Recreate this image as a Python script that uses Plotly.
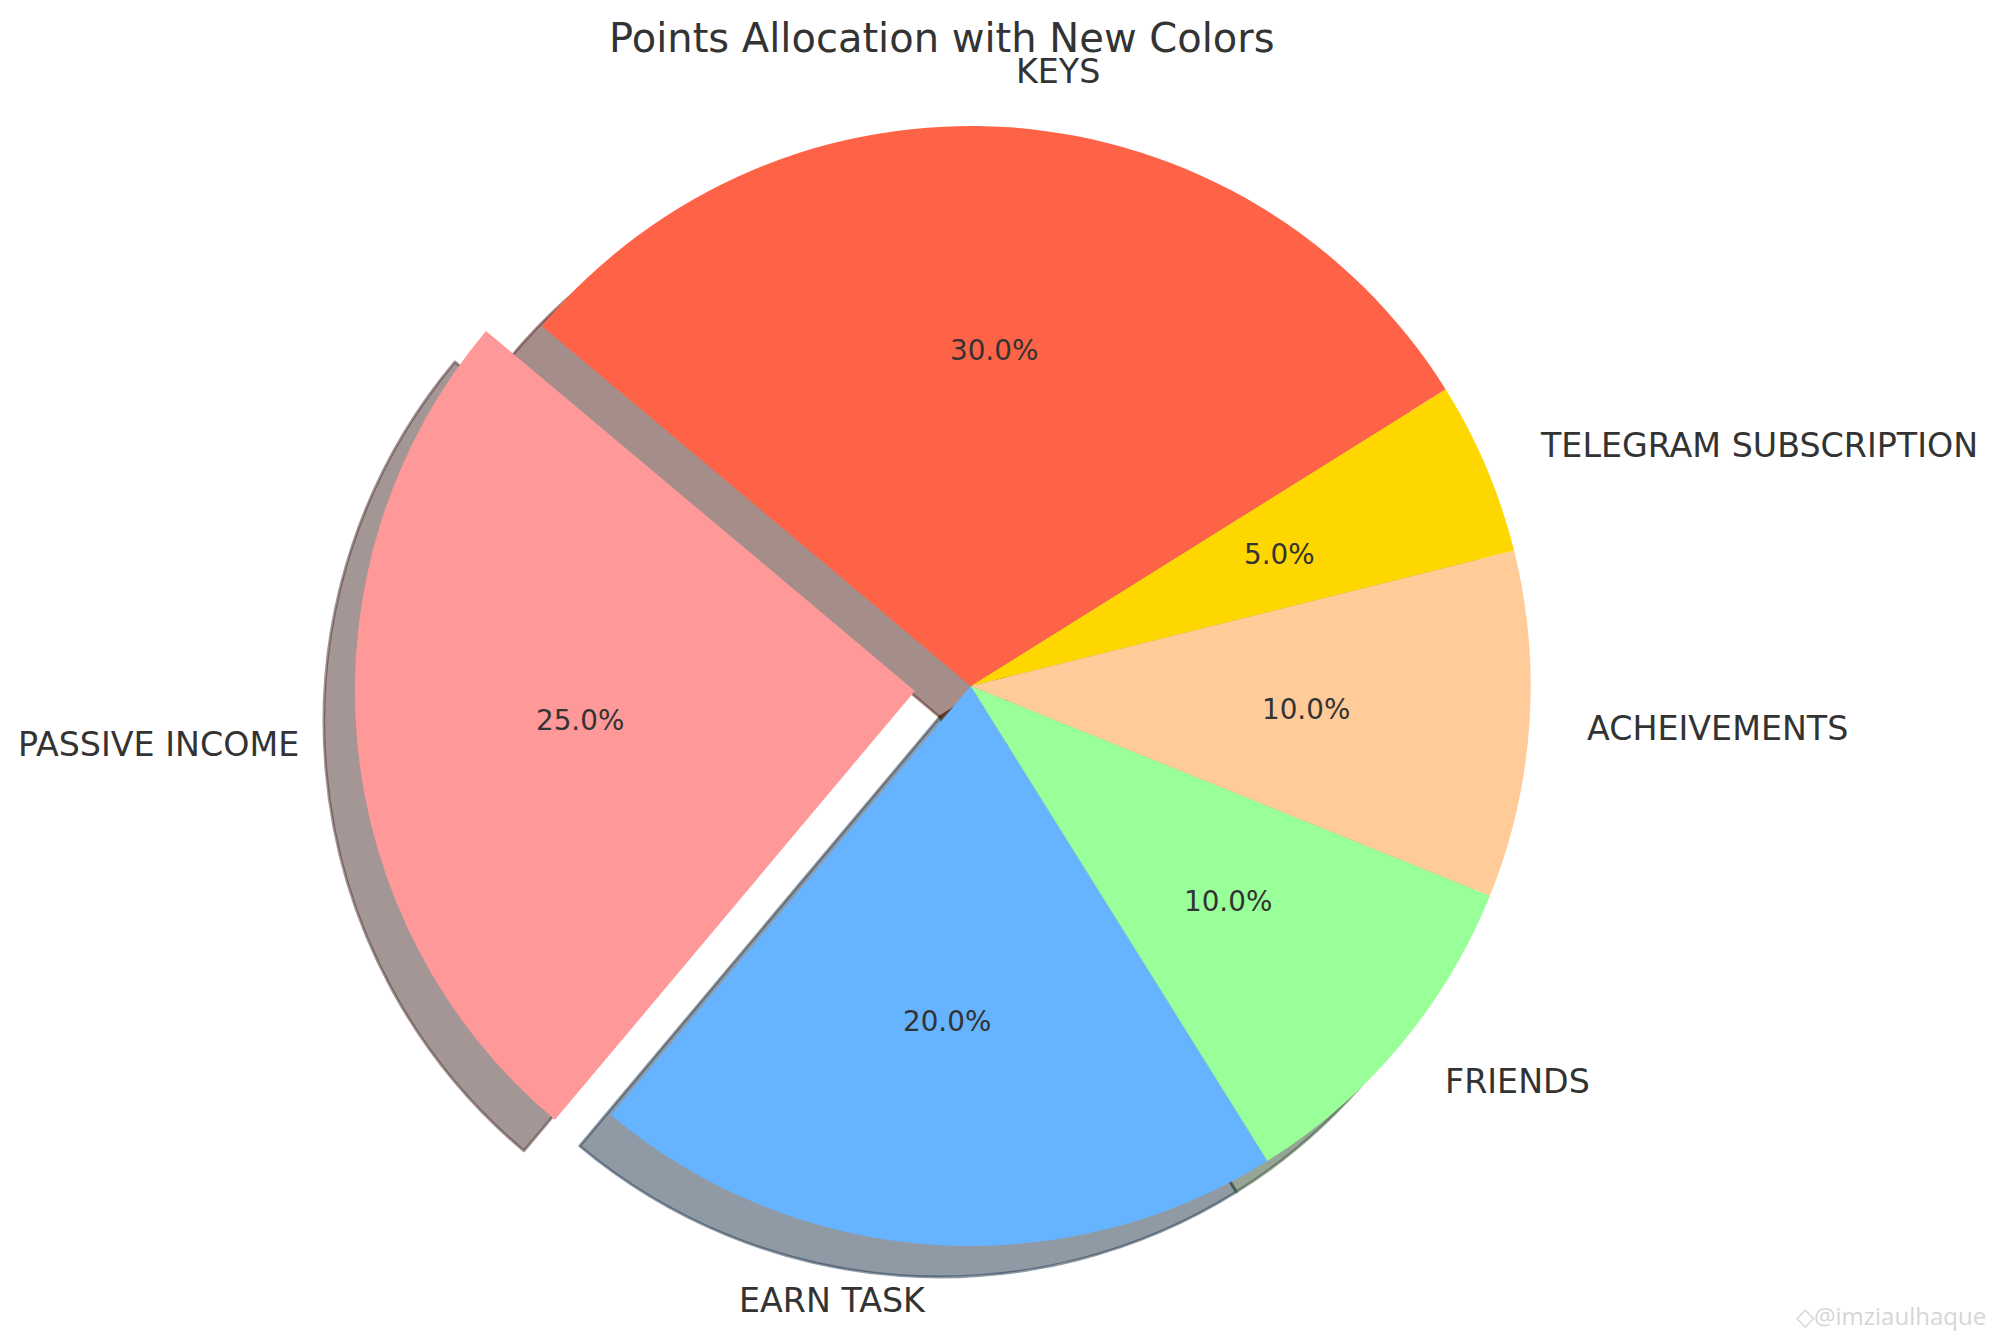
import math
import plotly.graph_objects as go

# ---------------- data ----------------
labels = ["PASSIVE INCOME", "EARN TASK", "FRIENDS", "ACHEIVEMENTS",
          "TELEGRAM SUBSCRIPTION", "KEYS"]
values = [25, 20, 10, 10, 5, 30]
explode = [0.1, 0, 0, 0, 0, 0]
colors = ["#ff9999", "#66b3ff", "#99ff99", "#ffcc99", "#ffd700", "#ff6347"]
title_text = "Points Allocation with New Colors"
watermark = "@imziaulhaque"

# ---------------- geometry / style ----------------
W, H = 1996, 1337
CX, CY, R = 970.7, 686.0, 560.0      # pie centre and radius in pixels
START = 140.0                         # start angle (deg, counter-clockwise from east)
SHADOW = 31.0                         # shadow offset in px
FONT = "DejaVu Sans"
TXT = "#333333"


def hex2rgb(h):
    h = h.lstrip("#")
    return tuple(int(h[i:i + 2], 16) for i in (0, 2, 4))


shadow_colors = []
for c in colors:
    r, g, b = hex2rgb(c)
    shadow_colors.append(f"rgba({0.3 * r:.0f},{0.3 * g:.0f},{0.3 * b:.0f},0.5)")

half = R * (1 + max(explode))
total = float(sum(values))

# plotly (counterclockwise): the first slice *ends* at the rotation angle
rotation = 90 - START - 360.0 * values[0] / total


def domain(cx, cy):
    return dict(x=[(cx - half) / W, (cx + half) / W],
                y=[1 - (cy + half) / H, 1 - (cy - half) / H])


common = dict(values=values, labels=labels, sort=False,
              direction="counterclockwise", rotation=rotation,
              pull=explode, textinfo="none", showlegend=False)

fig = go.Figure()
# shadow pie (drawn first, behind)
fig.add_trace(go.Pie(
    **common,
    domain=domain(CX - SHADOW, CY + SHADOW),
    marker=dict(colors=shadow_colors,
                line=dict(color=shadow_colors, width=2.8)),
    hoverinfo="skip",
))
# main pie
fig.add_trace(go.Pie(
    **common,
    domain=domain(CX, CY),
    marker=dict(colors=colors, line=dict(width=0)),
    hoverinfo="label+percent",
))

# labels and percentages, placed like matplotlib's pie (1.1 r and 0.6 r)
annotations = []
cum = 0.0
for lab, v, ex in zip(labels, values, explode):
    t1 = START + 360.0 * cum / total
    t2 = START + 360.0 * (cum + v) / total
    cum += v
    mid = math.radians((t1 + t2) / 2)
    cx = CX + ex * R * math.cos(mid)
    cy = CY - ex * R * math.sin(mid)
    lx = cx + 1.1 * R * math.cos(mid)
    ly = cy - 1.1 * R * math.sin(mid)
    annotations.append(dict(
        x=lx / W, y=1 - ly / H, xref="paper", yref="paper",
        text=lab, showarrow=False,
        xanchor="left" if math.cos(mid) > 0 else "right", yanchor="middle",
        font=dict(family=FONT, size=33.3, color=TXT)))
    px = cx + 0.6 * R * math.cos(mid)
    py = cy - 0.6 * R * math.sin(mid)
    annotations.append(dict(
        x=px / W, y=1 - py / H, xref="paper", yref="paper",
        text=f"{100.0 * v / total:.1f}%", showarrow=False,
        xanchor="center", yanchor="middle",
        font=dict(family=FONT, size=27.8, color=TXT)))

# title
annotations.append(dict(
    x=942 / W, y=1 - 38 / H, xref="paper", yref="paper",
    text=title_text, showarrow=False, xanchor="center", yanchor="middle",
    font=dict(family=FONT, size=40, color=TXT)))

# faint watermark
annotations.append(dict(
    x=1988 / W, y=1 - 1315 / H, xref="paper", yref="paper",
    text="\u25C7" + watermark, showarrow=False, xanchor="right", yanchor="middle",
    font=dict(family="Open Sans", size=24, color="#d6d6d6")))

fig.update_layout(
    width=W, height=H,
    margin=dict(l=0, r=0, t=0, b=0),
    paper_bgcolor="white", plot_bgcolor="white",
    annotations=annotations,
)

fig.write_html("out.html", config={"displayModeBar": False},
               post_script="document.body.style.margin='0';")
